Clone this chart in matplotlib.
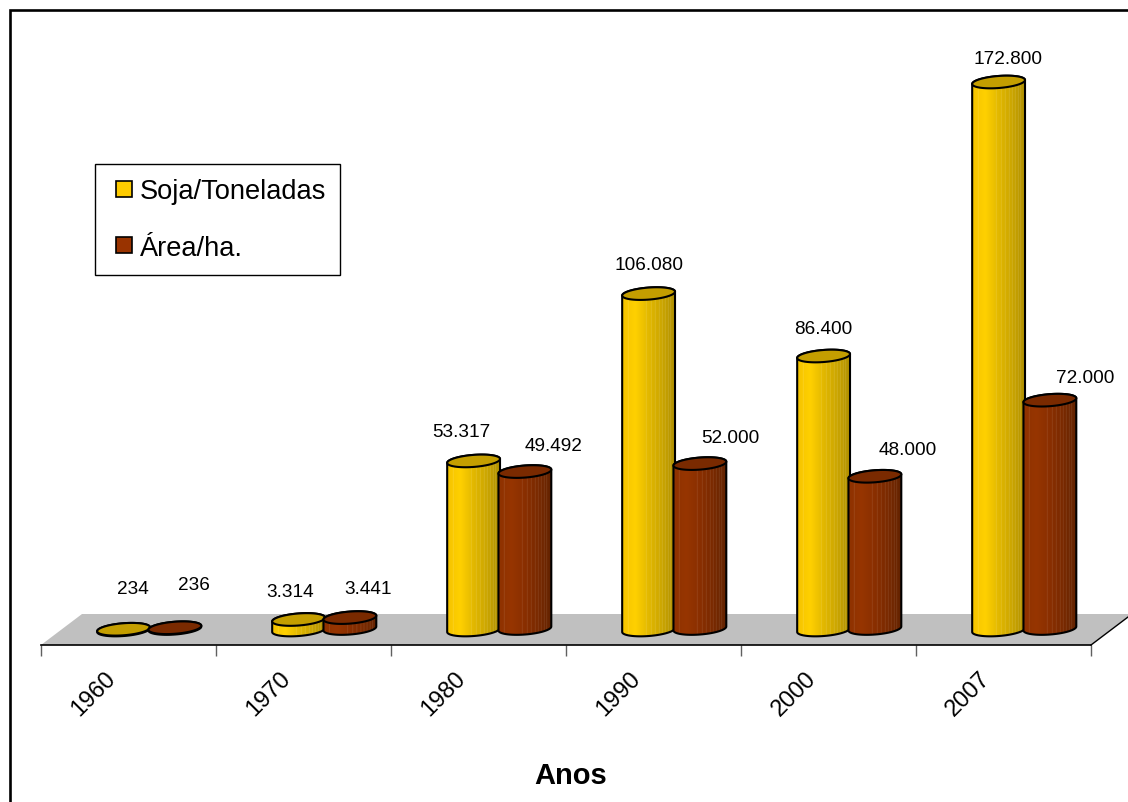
import numpy as np
import matplotlib
matplotlib.use("Agg")
import matplotlib.pyplot as plt
from matplotlib.colors import LinearSegmentedColormap
from matplotlib.patches import Polygon
from matplotlib.lines import Line2D

plt.rcParams['font.family'] = ['Liberation Sans', 'DejaVu Sans']

anos = ['1960', '1970', '1980', '1990', '2000', '2007']
soja = [234, 3314, 53317, 106080, 86400, 172800]
area = [236, 3441, 49492, 52000, 48000, 72000]

# label shift from the top of each cylinder, in pixels
soja_shift = [(9, 41), (-8, 28), (-12, 29), (0, 29), (0, 27), (9, 24)]
area_shift = [(19, 43), (18, 29), (29, 26), (30, 26), (33, 27), (35, 23)]

W, H = 1128, 803
LEFT, RIGHT = 41, 1091      # x axis ends, px
FRONT, TOP = 646, 11        # front edge of the floor and top of the axes, px
BASE = 631                  # where value 0 sits, px
UNITS_PER_PX = 172800 / 548.0
X_PER_PX = 6.0 / (RIGHT - LEFT)

yellow_cm = LinearSegmentedColormap.from_list('y', ['#F5C400', '#FFD000', '#E2B800', '#CCA600', '#B09000'])
red_cm = LinearSegmentedColormap.from_list('r', ['#8E3200', '#973500', '#8A2F00', '#7A2A00', '#642300'])


def shading(cmap, pale, n=106):
    # colour steps across the cylinder with the thin pale lines of the original
    rgb = cmap(np.linspace(0, 1, n))[:, :3]
    for pos in [0.12, 0.46, 0.55, 0.63, 0.7, 0.76, 0.82, 0.87, 0.92]:
        k = int(pos * n)
        rgb[k] = rgb[k] + (1 - rgb[k]) * pale
    return rgb.reshape(1, n, 3)


def ellipse(t, a, b, tilt):
    x = a * np.cos(t) * np.cos(tilt) - b * np.sin(t) * np.sin(tilt)
    y = a * np.cos(t) * np.sin(tilt) + b * np.sin(t) * np.cos(tilt)
    return x, y


def cylinder(ax, cx, value, cmap, pale, top_color, z, lift=0):
    a, b, tilt = 26.5, 6.0, np.radians(4.5)
    h = value / UNITS_PER_PX
    high = lift + h
    lx, ly = ellipse(np.linspace(np.pi, 2 * np.pi, 45), a, b, tilt)
    ux, uy = ellipse(np.linspace(0, np.pi, 45), a, b, tilt)
    # body outline: lower arc left to right, then back over the top
    px = np.concatenate([lx, ux])
    py = np.concatenate([ly + lift, uy + high])
    xy = np.column_stack([cx + px * X_PER_PX, py * UNITS_PER_PX])
    ax.add_patch(Polygon(xy, closed=True, facecolor='none', edgecolor='black', lw=1.5, zorder=z + 0.2))
    img = ax.imshow(shading(cmap, pale), aspect='auto', zorder=z,
                    extent=[cx - a * X_PER_PX, cx + a * X_PER_PX,
                            (lift - b - 3) * UNITS_PER_PX, (high + b + 3) * UNITS_PER_PX])
    img.set_clip_path(Polygon(xy, closed=True, transform=ax.transData))
    ex, ey = ellipse(np.linspace(0, 2 * np.pi, 90), a, b, tilt)
    top_xy = np.column_stack([cx + ex * X_PER_PX, (ey + high) * UNITS_PER_PX])
    ax.add_patch(Polygon(top_xy, closed=True, facecolor=top_color, edgecolor='black', lw=1.5, zorder=z + 0.3))
    return high * UNITS_PER_PX


fig = plt.figure(figsize=(W / 100, H / 100), dpi=100)
ax = fig.add_axes([LEFT / W, (H - FRONT) / H, (RIGHT - LEFT) / W, (FRONT - TOP) / H])
ax.patch.set_visible(False)

# grey floor
depth_x, depth_y = 41 * X_PER_PX, 31 * UNITS_PER_PX
y0 = -(FRONT - BASE) * UNITS_PER_PX
ax.add_patch(Polygon([(0, y0), (6, y0), (6 + depth_x, y0 + depth_y), (depth_x, y0 + depth_y)],
                     closed=True, facecolor='#C0C0C0', edgecolor='none', clip_on=False, zorder=1))
ax.add_line(Line2D([6, 6 + depth_x], [y0, y0 + depth_y], color='black', lw=1, clip_on=False, zorder=1.5))

for i in range(len(anos)):
    x1 = i + 0.472
    x2 = i + 0.765
    t1 = cylinder(ax, x1, soja[i], yellow_cm, 0.22, '#C49E00', 3 + i)
    t2 = cylinder(ax, x2, area[i], red_cm, 0.16, '#7A2A00', 3.5 + i, lift=1.5)
    for x, top, val, sh in ((x1, t1, soja[i], soja_shift[i]), (x2, t2, area[i], area_shift[i])):
        ax.annotate(f'{val:,}'.replace(',', '.'), (x, top), xytext=(sh[0] * 0.72, sh[1] * 0.72),
                    textcoords='offset points', ha='center', va='center', fontsize=13.7,
                    color='black', zorder=20)

ax.set_xlim(0, 6)
ax.set_ylim(y0, (BASE - TOP) * UNITS_PER_PX)
for s in ['top', 'left', 'right']:
    ax.spines[s].set_visible(False)
ax.spines['bottom'].set_linewidth(1.2)
ax.set_yticks([])
ax.set_xticks(range(7))
ax.set_xticklabels([])
ax.tick_params(axis='x', which='major', length=8, width=1, color='#606060')
# the year labels sit left of the middle of each slot
ax.set_xticks(np.arange(6) + 0.363, minor=True)
ax.set_xticklabels(anos, minor=True, rotation=45, ha='right', va='top',
                   rotation_mode='anchor', fontsize=17)
ax.tick_params(axis='x', which='minor', length=0, pad=15.5)
ax.set_xlabel('Anos', fontsize=21, fontweight='bold')
ax.xaxis.set_label_coords((571 - LEFT) / (RIGHT - LEFT), -(776 - FRONT) / (FRONT - TOP), transform=ax.transAxes)
ax.xaxis.label.set_va('center')

handles = [Line2D([], [], ls='none', marker='s', ms=11.5, mfc='#FFCC00', mec='black', mew=1.2, label='Soja/Toneladas'),
           Line2D([], [], ls='none', marker='s', ms=11.5, mfc='#993300', mec='black', mew=1.2, label='Área/ha.')]
leg = fig.legend(handles=handles, loc='upper left', bbox_to_anchor=(95 / W, 1 - 165 / H),
                 fontsize=19.6, frameon=True, fancybox=False, framealpha=1, edgecolor='black',
                 handlelength=1.07, handletextpad=0.04, labelspacing=1.12,
                 borderpad=0.53, borderaxespad=0)
leg.get_frame().set_linewidth(1)

# the chart frame only shows on the top and left, the rest is cropped off
fig.add_artist(Line2D([9.5 / W, 9.5 / W, 1], [0, 1 - 11 / H, 1 - 11 / H], color='black', lw=1.9,
                      solid_joinstyle='miter', transform=fig.transFigure))

fig.savefig('out.png', dpi=100)
